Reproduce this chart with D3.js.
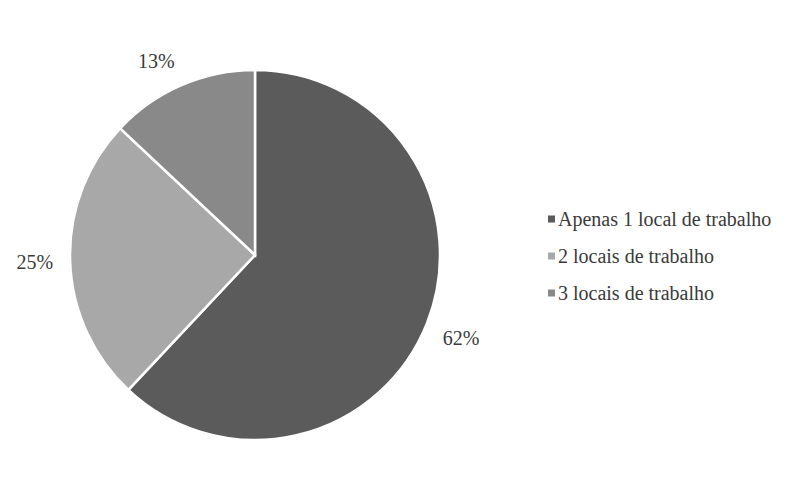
<!DOCTYPE html>
<html>
<head>
<meta charset="utf-8">
<script src="https://cdn.jsdelivr.net/npm/d3@7"></script>
<style>
  html, body { margin: 0; padding: 0; background: #ffffff; }
  svg { display: block; }
  text { font-family: "Liberation Serif", "Times New Roman", serif; fill: #3a3a3a; }
</style>
</head>
<body>
<svg id="chart" width="791" height="501"></svg>
<script>
const categories = ["Apenas 1 local de trabalho", "2 locais de trabalho", "3 locais de trabalho"];
const values = [62, 25, 13];
const valueLabels = ["62%", "25%", "13%"];
const colors = ["#5b5b5b", "#a8a8a8", "#898989"];

const svg = d3.select("#chart");
const cx = 255, cy = 255, r = 185;

const pie = d3.pie().sort(null).value(d => d)(values);
const arc = d3.arc().innerRadius(0).outerRadius(r);

const g = svg.append("g").attr("transform", `translate(${cx},${cy})`);
g.selectAll("path").data(pie).join("path")
  .attr("d", arc)
  .attr("fill", (d, i) => colors[i])
  .attr("stroke", "#ffffff")
  .attr("stroke-width", 2.5);

// "outside end" labels: nearest box corner sits just outside the rim
const gap = 17;
const clamp = v => Math.max(-1, Math.min(1, v));
g.selectAll("text.lbl").data(pie).join("text")
  .attr("class", "lbl")
  .attr("text-anchor", "middle")
  .attr("dominant-baseline", "central")
  .style("font-size", "20px")
  .text((d, i) => valueLabels[i])
  .each(function(d) {
    const a = (d.startAngle + d.endAngle) / 2;
    const ux = Math.sin(a), uy = -Math.cos(a);
    const bb = this.getBBox();
    const hw = bb.width / 2, hh = 9;
    const px = ux * (r + gap), py = uy * (r + gap);
    const x = px + clamp(ux * 3) * hw;
    const y = py + clamp(uy * 3) * hh;
    d3.select(this).attr("x", x).attr("y", y);
  });

const legend = svg.append("g").attr("transform", "translate(548,219)");
const rows = legend.selectAll("g").data(categories).join("g")
  .attr("transform", (d, i) => `translate(0,${i * 37})`);
rows.append("rect").attr("x", 0).attr("y", -3.5).attr("width", 7).attr("height", 7)
  .attr("fill", (d, i) => colors[i]);
rows.append("text").attr("x", 10).attr("y", 7)
  .style("font-size", "20px")
  .text(d => d);
</script>
</body>
</html>
